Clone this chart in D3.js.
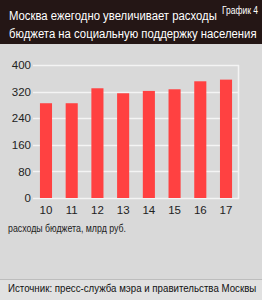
<!DOCTYPE html>
<html>
<head>
<meta charset="utf-8">
<script src="https://cdn.jsdelivr.net/npm/d3@7"></script>
<style>
	body { margin: 0; background: #d9d9d9; }
	svg { display: block; }
	text { font-family: "Liberation Sans", Arial, sans-serif; }
</style>
</head>
<body>
<svg id="chart" width="262" height="300"></svg>
<script>
var years = ["10", "11", "12", "13", "14", "15", "16", "17"];
var spending = [285, 285, 330, 315, 322, 327, 351, 356];
var yTicks = [0, 80, 160, 240, 320, 400];

var titleLines = ["Москва ежегодно увеличивает расходы", "бюджета на социальную поддержку населения"];
var chartNo = "График 4";
var unitLabel = "расходы бюджета, млрд руб.";
var sourceLabel = "Источник: пресс-служба мэра и правительства Москвы";

var svg = d3.select("#chart");

// the original uses a condensed face: squeeze texts horizontally
function squeezed(sel, tx, ty, sx) {
	return sel.append("text")
		.attr("transform", "translate(" + tx + "," + ty + ") scale(" + sx + ",1)");
}

// background, header and footer
svg.append("rect").attr("width", 262).attr("height", 300).attr("fill", "#d9d9d9");
svg.append("rect").attr("width", 262).attr("height", 44).attr("fill", "#241615");
svg.append("rect").attr("y", 279).attr("width", 262).attr("height", 21).attr("fill", "#e1e1e1");
svg.append("line").attr("x1", 0).attr("x2", 262).attr("y1", 279.5).attr("y2", 279.5)
	.attr("stroke", "#bdbdbd");

titleLines.forEach(function(line, i) {
	squeezed(svg, 9, 20 + i * 18, 0.84)
		.attr("fill", "#fff")
		.style("font-size", "13.5px")
		.text(line);
});

squeezed(svg, 258, 14, 0.85)
	.attr("text-anchor", "end")
	.attr("fill", "#fff")
	.style("font-size", "10px")
	.text(chartNo);

// plot
var x = d3.scaleBand().domain(years).range([33, 239]).paddingInner(0.53).paddingOuter(0.27);
var y = d3.scaleLinear().domain([0, 400]).range([198, 65]);

var g = svg.append("g");

g.selectAll("line.grid")
	.data(yTicks)
	.enter()
	.append("line")
	.attr("class", "grid")
	.attr("x1", 33)
	.attr("x2", 239)
	.attr("y1", function(d) { return Math.round(y(d)) + 0.5; })
	.attr("y2", function(d) { return Math.round(y(d)) + 0.5; })
	.attr("stroke", "#f4f4f4")
	.attr("stroke-width", 1.5);

g.append("line")
	.attr("x1", 238.5).attr("x2", 238.5)
	.attr("y1", y(400)).attr("y2", y(0) + 1)
	.attr("stroke", "#f4f4f4")
	.attr("stroke-width", 1.5);

g.selectAll("rect.bar")
	.data(spending)
	.enter()
	.append("rect")
	.attr("class", "bar")
	.attr("x", function(d, i) { return x(years[i]); })
	.attr("width", x.bandwidth())
	.attr("y", function(d) { return y(d); })
	.attr("height", function(d) { return y(0) - y(d); })
	.attr("fill", "#ff4141");

// axes
var yAxis = g.append("g")
	.attr("transform", "translate(31,0)")
	.call(d3.axisLeft(y).tickValues(yTicks).tickSize(0).tickPadding(0));
var xAxis = g.append("g")
	.attr("transform", "translate(0," + y(0) + ")")
	.call(d3.axisBottom(x).tickSize(0).tickPadding(8));

[yAxis, xAxis].forEach(function(ax) {
	ax.select(".domain").remove();
	ax.selectAll("text")
		.attr("fill", "#222")
		.style("font-family", "\"Liberation Sans\", Arial, sans-serif")
		.style("font-size", "11.5px");
});

squeezed(svg, 8, 232, 0.88)
	.attr("fill", "#222")
	.style("font-size", "10px")
	.text(unitLabel);

squeezed(svg, 8, 292, 0.97)
	.attr("fill", "#111")
	.style("font-size", "10px")
	.text(sourceLabel);
</script>
</body>
</html>
